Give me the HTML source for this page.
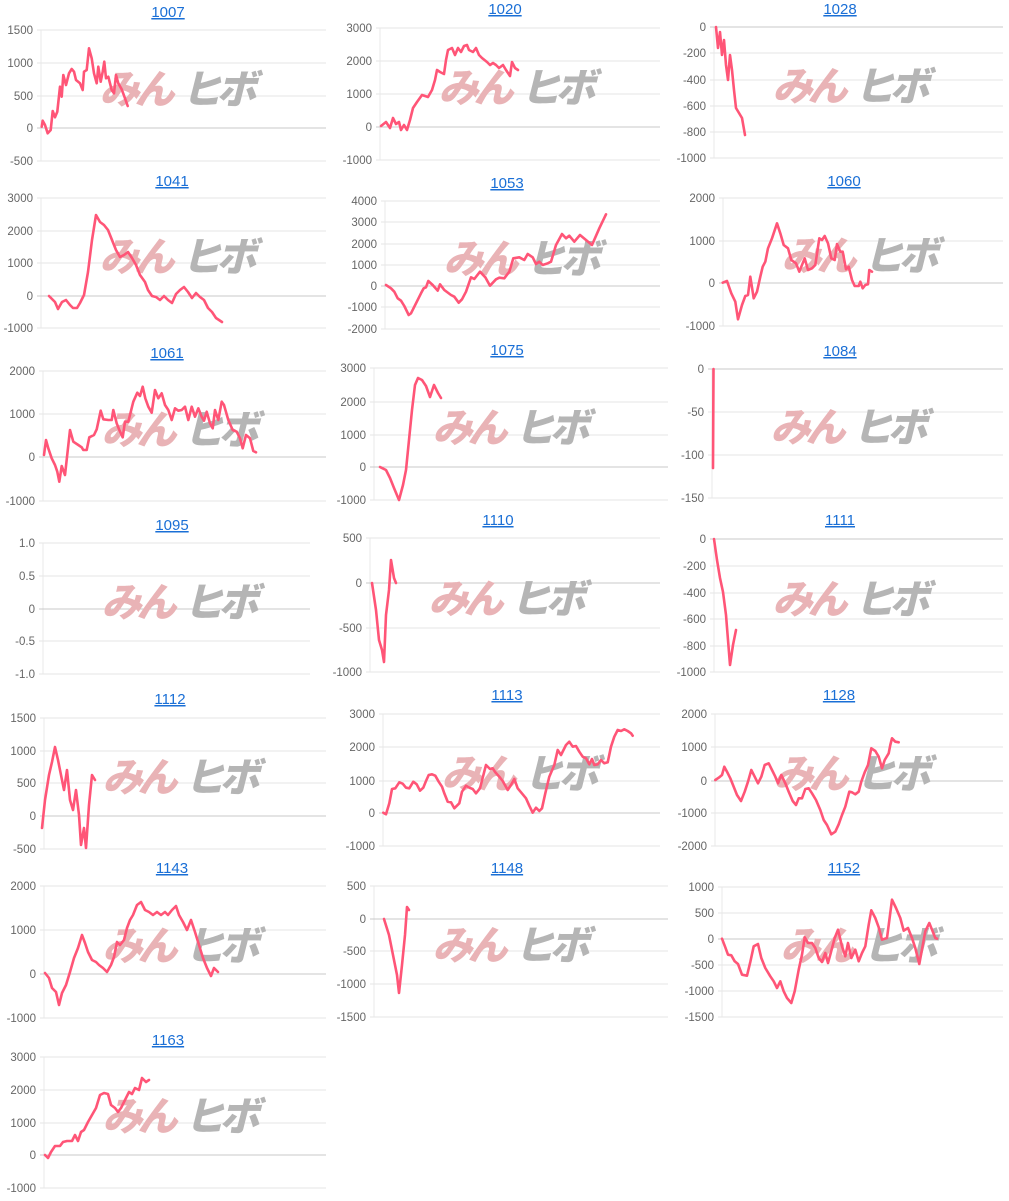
<!DOCTYPE html>
<html><head><meta charset="utf-8"><style>
html,body{margin:0;padding:0;background:#fff;width:1009px;height:1201px;overflow:hidden}
svg{display:block}
.t{font-family:"Liberation Sans",sans-serif;font-size:15px;fill:#1a6fd6;text-decoration:underline}
.k{font-family:"Liberation Sans",sans-serif;font-size:11.5px;fill:#666}
.w{font-family:"Liberation Sans","Noto Sans CJK JP",sans-serif;font-weight:900;font-size:40px;letter-spacing:-5px}
</style></head><body>
<svg id="s" width="1009" height="1201" xmlns="http://www.w3.org/2000/svg"></svg>
<script>
function Z(o,arr){return arr.map(p=>[o[0]+p[0]/3,o[1]+p[1]/3]);}
const C=[
{t:"1007",tx:168,ty:17,ax:41,r:326,k:[["1500",30],["1000",63],["500",96],["0",128],["-500",161]],
 p:Z([0,0],[[125,380],[128,362],[135,375],[143,400],[152,390],[158,333],[165,352],[172,335],[180,260],[185,290],[190,225],[198,255],[207,220],[215,207],[222,215],[228,240],[240,250],[248,270],[252,215],[260,210],[267,145],[275,175],[282,220],[290,250],[295,200],[302,245],[308,215],[313,185],[318,235],[325,230],[335,270],[342,280],[348,225],[355,250],[365,268],[375,295],[383,318]])},
{t:"1020",tx:505,ty:14,ax:380,r:660,k:[["3000",28],["2000",61],["1000",94],["0",127],["-1000",160]],
 p:[[381,126],[386,122],[390,128],[393,118],[396,124],[399,122],[401,130],[404,125],[407,130],[410,120],[413,108],[417,102],[422,95],[428,97],[432,90],[435,80],[437,70],[440,72],[444,74],[446,60],[448,50],[452,48],[455,55],[458,48],[461,52],[464,46],[467,45],[469,50],[473,52],[476,48],[479,55],[482,58],[487,62],[490,65],[493,63],[496,65],[499,68],[503,65],[506,70],[510,76],[512,62],[515,68],[518,70]]},
{t:"1028",tx:840,ty:14,ax:714,r:1003,k:[["0",27],["-200",53],["-400",80],["-600",106],["-800",132],["-1000",158]],
 p:[[716,27],[718,48],[720,32],[722,55],[724,40],[726,65],[728,80],[730,55],[732,70],[734,90],[736,108],[739,113],[742,118],[745,135]]},
{t:"1041",tx:172,ty:186,ax:41,r:326,k:[["3000",198],["2000",231],["1000",263],["0",296],["-1000",328]],
 p:[[49,296],[55,302],[58,309],[62,302],[66,300],[70,305],[73,308],[77,308],[80,303],[84,295],[88,272],[92,240],[96,215],[100,222],[104,225],[108,230],[112,240],[116,250],[120,257],[124,255],[128,252],[132,258],[136,265],[140,275],[145,282],[148,290],[152,296],[156,297],[160,300],[164,296],[168,300],[172,303],[176,294],[180,290],[184,287],[188,292],[192,298],[196,293],[200,297],[204,300],[208,308],[212,312],[216,318],[222,322]]},
{t:"1053",tx:507,ty:188,ax:385,r:660,k:[["4000",201],["3000",222],["2000",244],["1000",265],["0",286],["-1000",307],["-2000",329]],
 p:Z([336,170],[[150,345],[165,355],[175,365],[185,385],[195,392],[205,408],[218,435],[225,430],[240,400],[255,370],[263,355],[270,352],[277,333],[290,345],[305,362],[312,343],[325,360],[345,375],[355,380],[368,398],[378,388],[390,365],[405,322],[415,327],[432,305],[448,322],[462,347],[480,328],[490,323],[505,325],[520,305],[532,265],[550,262],[565,270],[575,252],[590,262],[600,282],[610,275],[620,285],[635,280],[645,275],[660,225],[678,192],[690,205],[700,197],[715,215],[732,195],[750,210],[768,225],[790,175],[810,133]])},
{t:"1060",tx:844,ty:186,ax:723,r:1003,k:[["2000",198],["1000",241],["0",283],["-1000",326]],
 p:Z([672,170],[[152,338],[165,333],[178,370],[190,395],[198,448],[210,405],[220,378],[228,375],[235,320],[245,385],[255,365],[265,320],[272,290],[280,275],[288,235],[300,205],[315,160],[325,190],[335,225],[348,235],[358,270],[372,280],[382,305],[398,265],[408,300],[420,295],[430,285],[442,205],[450,210],[458,198],[468,220],[478,265],[488,270],[495,222],[505,245],[512,245],[522,298],[530,290],[540,330],[548,348],[560,348],[565,335],[572,355],[580,345],[588,343],[592,300],[600,305]])},
{t:"1061",tx:167,ty:358,ax:43,r:326,k:[["2000",371],["1000",414],["0",457],["-1000",501]],
 p:Z([0,340],[[132,345],[138,300],[145,325],[155,355],[165,375],[172,395],[178,425],[185,378],[195,405],[210,270],[220,305],[235,315],[245,322],[250,330],[260,330],[268,292],[282,285],[290,268],[302,212],[310,238],[325,240],[335,240],[340,210],[350,250],[358,270],[368,292],[375,245],[385,245],[400,185],[412,158],[420,168],[428,140],[436,175],[445,200],[455,218],[465,150],[475,175],[485,160],[495,195],[505,210],[515,240],[525,205],[535,212],[545,210],[555,200],[565,240],[575,200],[585,230],[595,205],[605,230],[612,242],[620,215],[630,250],[638,265],[645,210],[655,240],[665,185],[672,195],[685,240],[698,270],[710,275],[720,295],[728,325],[738,285],[750,295],[760,333],[768,337]])},
{t:"1075",tx:507,ty:355,ax:374,r:668,k:[["3000",368],["2000",402],["1000",435],["0",467],["-1000",500]],
 p:[[380,467],[386,470],[390,478],[394,488],[399,500],[403,485],[406,470],[409,440],[412,410],[415,385],[418,378],[422,380],[426,386],[430,397],[434,385],[438,393],[441,398]]},
{t:"1084",tx:840,ty:356,ax:712,r:1003,k:[["0",369],["-50",412],["-100",455],["-150",498]],
 p:[[713.5,369],[713,468]]},
{t:"1095",tx:172,ty:530,ax:43,r:310,k:[["1.0",543],["0.5",576],["0",609],["-0.5",641],["-1.0",674]],p:[]},
{t:"1110",tx:498,ty:525,ax:370,r:660,k:[["500",538],["0",583],["-500",628],["-1000",672]],
 p:[[372,583],[376,610],[379,640],[382,650],[384,662],[386,615],[389,590],[391,560],[394,578],[396,583]]},
{t:"1111",tx:840,ty:525,ax:714,r:1003,k:[["0",539],["-200",566],["-400",593],["-600",619],["-800",646],["-1000",672]],
 p:[[714,539],[717,560],[720,578],[723,592],[726,615],[730,665],[733,645],[736,630]]},
{t:"1112",tx:170,ty:704,ax:44,r:326,k:[["1500",718],["1000",751],["500",783],["0",816],["-500",849]],
 p:[[42,828],[45,800],[49,775],[52,762],[55,747],[58,760],[61,775],[64,790],[67,770],[70,800],[73,810],[76,790],[79,815],[81,845],[84,828],[86,848],[89,805],[92,775],[95,780]]},
{t:"1113",tx:507,ty:700,ax:383,r:660,k:[["3000",714],["2000",747],["1000",781],["0",813],["-1000",846]],
 p:Z([336,685],[[142,383],[150,388],[160,355],[168,312],[178,310],[190,292],[200,296],[210,308],[220,310],[232,290],[242,298],[252,317],[262,308],[270,288],[278,270],[288,268],[298,272],[308,290],[318,305],[325,325],[335,350],[345,352],[355,370],[370,355],[378,320],[390,302],[400,308],[410,312],[420,325],[432,310],[440,278],[450,240],[462,252],[470,250],[478,262],[490,275],[500,288],[515,315],[525,300],[535,282],[545,310],[560,328],[570,340],[580,362],[590,383],[600,368],[610,378],[618,370],[628,325],[640,275],[655,240],[665,195],[675,210],[690,180],[700,170],[710,185],[720,183],[730,200],[740,215],[750,220],[760,238],[768,222],[775,240],[785,238],[795,225],[805,235],[815,232],[825,185],[835,155],[845,135],[855,138],[865,133],[875,138],[885,145],[890,152]])},
{t:"1128",tx:839,ty:700,ax:715,r:1003,k:[["2000",714],["1000",747],["0",781],["-1000",813],["-2000",846]],
 p:Z([672,685],[[130,285],[140,278],[150,270],[157,245],[165,260],[175,280],[185,305],[195,330],[207,348],[218,320],[228,290],[238,255],[248,275],[258,295],[268,275],[278,240],[290,235],[300,255],[310,275],[318,295],[328,270],[340,295],[350,320],[362,348],[372,360],[380,340],[390,340],[400,312],[410,310],[420,325],[432,345],[445,375],[455,405],[465,420],[478,448],[490,440],[500,418],[510,390],[520,365],[532,320],[540,322],[550,328],[560,320],[568,290],[578,262],[588,240],[598,190],[610,198],[620,215],[630,250],[638,225],[650,205],[655,180],[660,160],[670,170],[680,172]])},
{t:"1143",tx:172,ty:873,ax:44,r:326,k:[["2000",886],["1000",930],["0",974],["-1000",1018]],
 p:[[45,973],[49,978],[52,988],[56,992],[59,1005],[62,993],[66,985],[70,972],[74,958],[78,948],[82,935],[85,943],[88,952],[92,960],[96,962],[99,965],[103,968],[107,972],[111,965],[114,957],[117,942],[120,945],[124,940],[127,928],[130,920],[133,915],[137,905],[141,902],[145,910],[149,912],[153,915],[157,912],[161,915],[165,912],[168,915],[172,910],[176,906],[179,915],[183,922],[187,930],[191,920],[195,932],[199,945],[203,958],[207,968],[211,976],[214,968],[218,972]]},
{t:"1148",tx:507,ty:873,ax:374,r:668,k:[["500",886],["0",919],["-500",951],["-1000",984],["-1500",1017]],
 p:[[384,919],[389,935],[393,955],[397,975],[399,993],[402,965],[405,935],[407,907],[409,910]]},
{t:"1152",tx:844,ty:873,ax:722,r:1003,k:[["1000",887],["500",913],["0",939],["-500",965],["-1000",991],["-1500",1017]],
 p:Z([672,858],[[150,242],[160,268],[168,290],[178,292],[188,310],[198,318],[210,350],[225,353],[235,312],[245,265],[258,258],[268,300],[280,330],[295,355],[305,370],[315,390],[325,370],[335,400],[345,420],[358,435],[368,400],[380,335],[390,290],[398,238],[408,255],[420,255],[430,270],[440,300],[450,312],[460,285],[468,315],[475,290],[488,240],[498,215],[510,265],[520,295],[528,255],[538,300],[550,275],[560,310],[570,285],[580,265],[590,200],[598,157],[610,180],[620,208],[630,245],[645,240],[660,125],[672,150],[685,180],[695,218],[708,210],[720,240],[730,270],[742,318],[760,220],[772,195],[780,215],[790,240],[795,242]])},
{t:"1163",tx:168,ty:1045,ax:44,r:326,k:[["3000",1057],["2000",1090],["1000",1123],["0",1155],["-1000",1188]],
 p:[[45,1155],[48,1158],[51,1152],[55,1146],[60,1146],[63,1142],[67,1141],[72,1141],[75,1135],[78,1141],[81,1132],[84,1130],[88,1122],[92,1115],[96,1108],[100,1095],[104,1093],[108,1094],[111,1105],[115,1108],[118,1112],[121,1108],[125,1100],[129,1092],[132,1094],[135,1088],[139,1090],[142,1078],[146,1082],[149,1080]]}
];
let h="";
for(const c of C){
  const top=c.k[0][1],bot=c.k[c.k.length-1][1];
  h+=`<text class="t" x="${c.tx}" y="${c.ty}" text-anchor="middle">${c.t}</text>`;
  h+=`<line x1="${c.ax}" y1="${top}" x2="${c.ax}" y2="${bot}" stroke="#e8e8e8" stroke-width="1"/>`;
  for(const [l,y] of c.k){
    const z=l==="0";
    h+=`<line x1="${c.ax-4}" y1="${y}" x2="${c.r}" y2="${y}" stroke="${z?'#c8c8c8':'#e6e6e6'}" stroke-width="1"/>`;
    h+=`<text class="k" x="${c.ax-8}" y="${y+4}" text-anchor="end">${l}</text>`;
  }
  const wy=(top+bot)/2-6, wx=c.ax+62;
  h+=`<g transform="translate(${wx},${wy}) skewX(-14)"><text class="w" x="0" y="14" fill="#e9b3b6">みん</text><text class="w" x="82" y="14" fill="#b5b5b5">ヒボ</text></g>`;
  if(c.p.length) h+=`<polyline fill="none" stroke="#ff5577" stroke-width="2.6" stroke-linejoin="round" stroke-linecap="round" points="${c.p.map(p=>p[0].toFixed(1)+','+p[1].toFixed(1)).join(' ')}"/>`;
}
document.getElementById('s').innerHTML=h;
</script>
</body></html>
